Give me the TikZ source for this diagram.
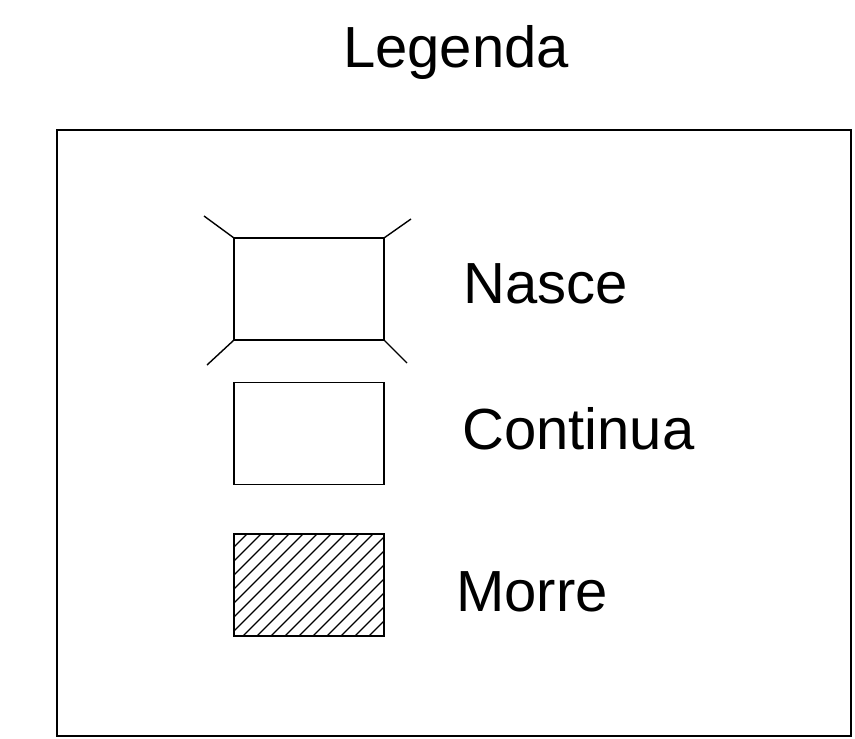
\documentclass[tikz,border=0pt]{standalone}
\usepackage{fontspec}
\setmainfont{Liberation Sans}
\begin{document}
\begin{tikzpicture}[x=1pt,y=-1pt,
  legbox/.style={draw,line width=1.5pt,minimum width=150pt,minimum height=102pt,inner sep=0pt,outer sep=0pt},
  legtext/.style={anchor=base west,inner sep=0pt,font=\fontsize{58}{60}\selectfont},
  thinline/.style={line width=1.4pt}]
\useasboundingbox (0,0) rectangle (855,739);
\node[draw,line width=1.5pt,minimum width=794pt,minimum height=606pt,inner sep=0pt,outer sep=0pt,anchor=north west] (frame) at (57,130) {};
\node[anchor=base,inner sep=0pt,font=\fontsize{58}{60}\selectfont] (title) at (456,67) {Legenda};
% Nasce
\node[legbox] (nasce) at (309,289) {};
\coordinate (ntl) at (204,216);
\coordinate (ntr) at (411,219);
\coordinate (nbl) at (207,365);
\coordinate (nbr) at (407,363);
\draw[thinline] (nasce.north west) -- (ntl);
\draw[thinline] (nasce.north east) -- (ntr);
\draw[thinline] (nasce.south west) -- (nbl);
\draw[thinline] (nasce.south east) -- (nbr);
\node[legtext] (tnasce) at (463,303) {Nasce};
% Continua
\node[legbox] (continua) at (309,433.5) {};
\node[legtext] (tcontinua) at (462,449) {Continua};
% Morre
\node[legbox] (morre) at (309,585) {};
\begin{scope}
  \clip (morre.south west) rectangle (morre.north east);
  \foreach \k in {0,...,19} {
    \draw[line width=1.2pt] ({233+\k*14-102},636) -- ({233+\k*14},534);
  }
\end{scope}
\node[legbox] at (309,585) {};
\node[legtext] (tmorre) at (456,611) {Morre};
\end{tikzpicture}
\end{document}
